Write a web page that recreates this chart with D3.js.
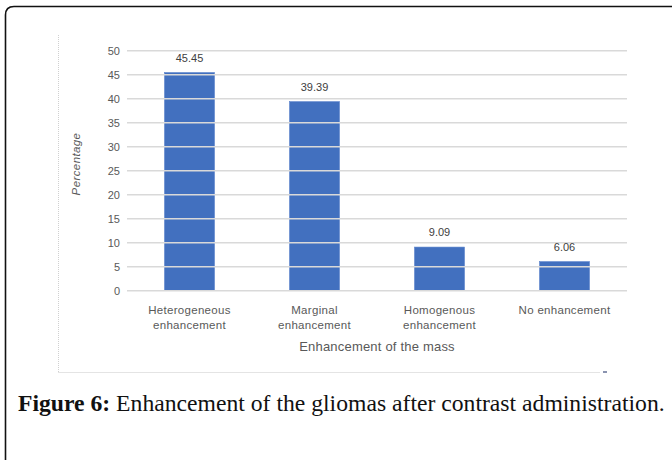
<!DOCTYPE html>
<html><head><meta charset="utf-8">
<script src="https://cdn.jsdelivr.net/npm/d3@7"></script>
<style>
html,body{margin:0;padding:0;background:#fff;}
svg{display:block;}
</style></head>
<body>
<svg id="c" width="672" height="460"></svg>
<script>
const categories = [["Heterogeneous","enhancement"],["Marginal","enhancement"],["Homogenous","enhancement"],["No enhancement"]];
const values = [45.45, 39.39, 9.09, 6.06];
const valueLabels = ["45.45","39.39","9.09","6.06"];
const yTicks = [0,5,10,15,20,25,30,35,40,45,50];
const yTitle = "Percentage";
const xTitle = "Enhancement of the mass";
const captionBold = "Figure 6:";
const captionText = " Enhancement of the gliomas after contrast administration.";

const svg = d3.select("#c");
const L = 127, R = 627, T = 50.7, B = 290.7;
const x = d3.scaleBand().domain(d3.range(values.length)).range([L, R]).paddingInner(0.6).paddingOuter(0.3);
const y = d3.scaleLinear().domain([0, 50]).range([B, T]);
const txt = "#595959";
const font = "'Liberation Sans', Arial, sans-serif";

// outer frame
svg.append("path")
  .attr("d", "M5.5,460 L5.5,15 Q5.5,6.5 14,6.5 L672,6.5")
  .attr("fill","none").attr("stroke","#111").attr("stroke-width",1.6);

// chart area border (dotted)
svg.append("line").attr("x1",58.5).attr("x2",58.5).attr("y1",35).attr("y2",372.5)
  .attr("stroke","#d0d0d0").attr("stroke-dasharray","1,1").attr("stroke-width",1);
svg.append("line").attr("x1",58.5).attr("x2",600).attr("y1",372.5).attr("y2",372.5)
  .attr("stroke","#c8c8c8").attr("stroke-dasharray","1,1").attr("stroke-width",1);
svg.append("rect").attr("x",603).attr("y",371).attr("width",4).attr("height",2).attr("fill","#8a93b0");

// bars
svg.append("g").selectAll("rect").data(values).join("rect")
  .attr("x",(d,i)=>x(i)).attr("width",x.bandwidth())
  .attr("y",d=>y(d)).attr("height",d=>y(0)-y(d))
  .attr("fill","#4270BF").attr("stroke","#5b83cc").attr("stroke-width",0.6);

// gridlines (drawn over bars)
svg.append("g").selectAll("line").data(yTicks).join("line")
  .attr("x1",L).attr("x2",R).attr("y1",d=>y(d)).attr("y2",d=>y(d))
  .attr("stroke","#d9d9d9").attr("stroke-width",1.5);

// y tick labels
svg.append("g").selectAll("text").data(yTicks).join("text")
  .attr("x",120).attr("y",d=>y(d)+4).attr("text-anchor","end")
  .attr("font-family",font).attr("font-size",11).attr("fill",txt).text(d=>d);

// value labels
svg.append("g").selectAll("text").data(values).join("text")
  .attr("x",(d,i)=>x(i)+x.bandwidth()/2).attr("y",d=>y(d)-11)
  .attr("text-anchor","middle").attr("font-family",font).attr("font-size",11)
  .attr("fill","#404040").text((d,i)=>valueLabels[i]);

// category labels
const cg = svg.append("g");
categories.forEach((lines,i)=>{
  lines.forEach((s,j)=>{
    cg.append("text").attr("x",x(i)+x.bandwidth()/2).attr("y",314+j*15)
      .attr("text-anchor","middle").attr("font-family",font).attr("font-size",11.5)
      .attr("letter-spacing",0.3).attr("fill",txt).text(s);
  });
});

// axis titles
svg.append("text").attr("x",377).attr("y",351).attr("text-anchor","middle")
  .attr("font-family",font).attr("font-size",13).attr("letter-spacing",0.2)
  .attr("fill",txt).text(xTitle);
svg.append("text").attr("transform","translate(80,164) rotate(-90)")
  .attr("text-anchor","middle").attr("font-family",font).attr("font-size",11.5)
  .attr("font-style","italic").attr("letter-spacing",0.4).attr("fill",txt).text(yTitle);

// caption
const cap = svg.append("text").attr("x",18).attr("y",411)
  .attr("font-family","'Liberation Serif','DejaVu Serif',serif").attr("font-size",22).attr("fill","#111");
cap.append("tspan").attr("font-weight","bold").text(captionBold);
cap.append("tspan").text(captionText);
const w = cap.node().getComputedTextLength();
cap.attr("font-size", 22*647/w);
</script>
</body></html>
